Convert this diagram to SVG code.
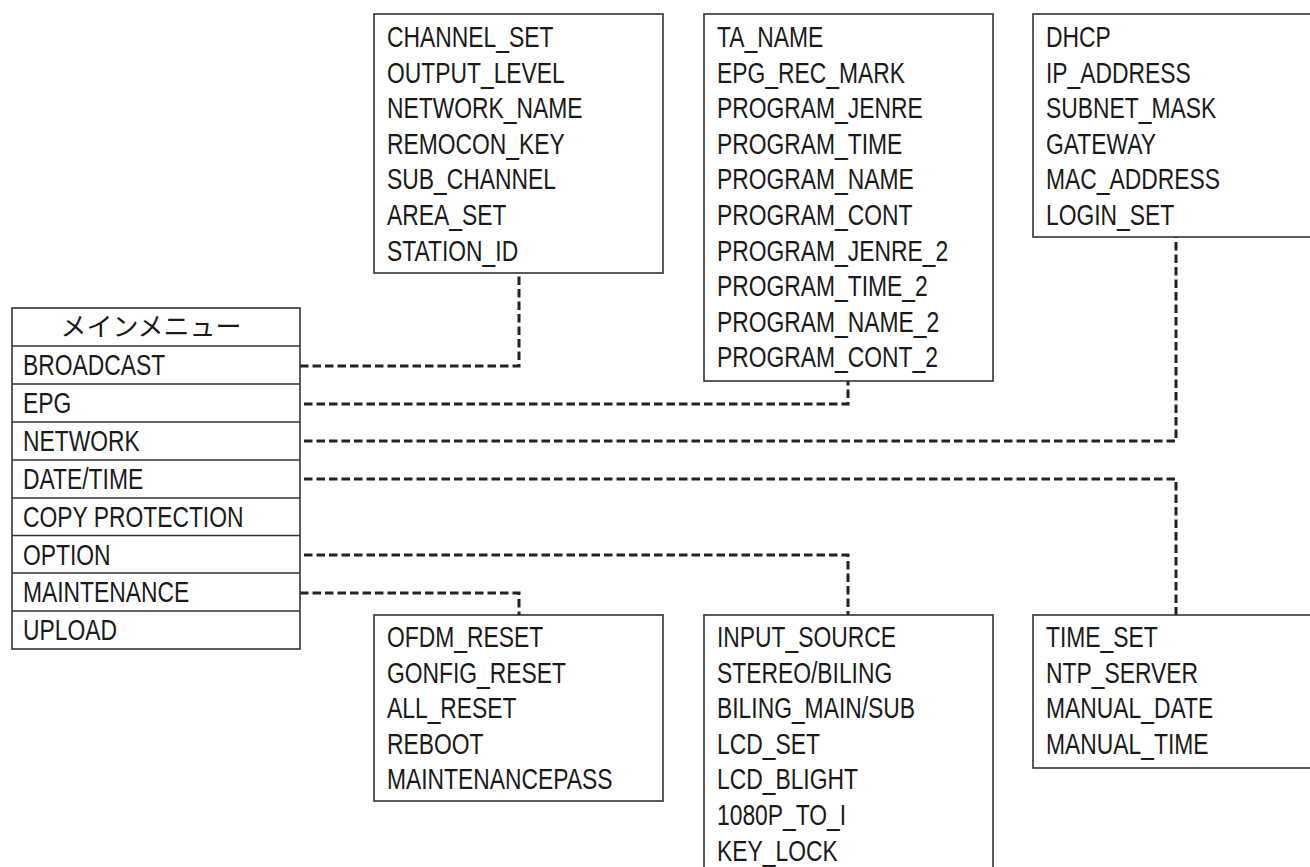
<svg xmlns="http://www.w3.org/2000/svg" width="1310" height="867" viewBox="0 0 1310 867">
<style>
.box{fill:#fff;stroke:#333;stroke-width:1.6}
.sep{stroke:#333;stroke-width:1.6}
.t{font-family:"Liberation Sans",Arial,sans-serif;font-size:29.5px;fill:#1a1a1a}
.jp{font-family:"Noto Sans CJK JP","Noto Sans",sans-serif;font-size:26px;fill:#1a1a1a}
.conn{fill:none;stroke:#222;stroke-width:3;stroke-dasharray:8.5 4}
</style>
<rect width="1310" height="867" fill="#fff"/>
<g id="connectors">
<path class="conn" d="M300,366 H519 V273"/>
<path class="conn" d="M304,404 H848 V381"/>
<path class="conn" d="M304,441 H1176 V237"/>
<path class="conn" d="M304,479 H1176 V615"/>
<path class="conn" d="M304,555 H848 V615"/>
<path class="conn" d="M300,593 H519 V615"/>
</g>
<g id="main-menu">
<rect class="box" x="12" y="308" width="288" height="341"/>
<line class="sep" x1="12" y1="346" x2="300" y2="346"/>
<line class="sep" x1="12" y1="384" x2="300" y2="384"/>
<line class="sep" x1="12" y1="422" x2="300" y2="422"/>
<line class="sep" x1="12" y1="460" x2="300" y2="460"/>
<line class="sep" x1="12" y1="498" x2="300" y2="498"/>
<line class="sep" x1="12" y1="535.5" x2="300" y2="535.5"/>
<line class="sep" x1="12" y1="573" x2="300" y2="573"/>
<line class="sep" x1="12" y1="611" x2="300" y2="611"/>
<text class="jp" x="151" y="336" text-anchor="middle">メインメニュー</text>
<text class="t" transform="translate(23,375) scale(.775,1)">BROADCAST</text>
<text class="t" transform="translate(23,413) scale(.775,1)">EPG</text>
<text class="t" transform="translate(23,451) scale(.775,1)">NETWORK</text>
<text class="t" transform="translate(23,489) scale(.775,1)">DATE/TIME</text>
<text class="t" transform="translate(23,527) scale(.775,1)">COPY PROTECTION</text>
<text class="t" transform="translate(23,564.5) scale(.775,1)">OPTION</text>
<text class="t" transform="translate(23,602) scale(.775,1)">MAINTENANCE</text>
<text class="t" transform="translate(23,640) scale(.775,1)">UPLOAD</text>
</g>
<g id="broadcast-box">
<rect class="box" x="374" y="14" width="289" height="259"/>
<text class="t" transform="translate(387,47) scale(.775,1)">CHANNEL_SET</text>
<text class="t" transform="translate(387,82.6) scale(.775,1)">OUTPUT_LEVEL</text>
<text class="t" transform="translate(387,118.2) scale(.775,1)">NETWORK_NAME</text>
<text class="t" transform="translate(387,153.8) scale(.775,1)">REMOCON_KEY</text>
<text class="t" transform="translate(387,189.4) scale(.775,1)">SUB_CHANNEL</text>
<text class="t" transform="translate(387,225) scale(.775,1)">AREA_SET</text>
<text class="t" transform="translate(387,260.6) scale(.775,1)">STATION_ID</text>
</g>
<g id="epg-box">
<rect class="box" x="704" y="14" width="289" height="367"/>
<text class="t" transform="translate(717,47) scale(.775,1)">TA_NAME</text>
<text class="t" transform="translate(717,82.6) scale(.775,1)">EPG_REC_MARK</text>
<text class="t" transform="translate(717,118.2) scale(.775,1)">PROGRAM_JENRE</text>
<text class="t" transform="translate(717,153.8) scale(.775,1)">PROGRAM_TIME</text>
<text class="t" transform="translate(717,189.4) scale(.775,1)">PROGRAM_NAME</text>
<text class="t" transform="translate(717,225) scale(.775,1)">PROGRAM_CONT</text>
<text class="t" transform="translate(717,260.6) scale(.775,1)">PROGRAM_JENRE_2</text>
<text class="t" transform="translate(717,296.2) scale(.775,1)">PROGRAM_TIME_2</text>
<text class="t" transform="translate(717,331.8) scale(.775,1)">PROGRAM_NAME_2</text>
<text class="t" transform="translate(717,367.4) scale(.775,1)">PROGRAM_CONT_2</text>
</g>
<g id="network-box">
<rect class="box" x="1033" y="14" width="289" height="223"/>
<text class="t" transform="translate(1046,47) scale(.775,1)">DHCP</text>
<text class="t" transform="translate(1046,82.6) scale(.775,1)">IP_ADDRESS</text>
<text class="t" transform="translate(1046,118.2) scale(.775,1)">SUBNET_MASK</text>
<text class="t" transform="translate(1046,153.8) scale(.775,1)">GATEWAY</text>
<text class="t" transform="translate(1046,189.4) scale(.775,1)">MAC_ADDRESS</text>
<text class="t" transform="translate(1046,225) scale(.775,1)">LOGIN_SET</text>
</g>
<g id="maintenance-box">
<rect class="box" x="374" y="615" width="289" height="186"/>
<text class="t" transform="translate(387,647) scale(.775,1)">OFDM_RESET</text>
<text class="t" transform="translate(387,682.6) scale(.775,1)">GONFIG_RESET</text>
<text class="t" transform="translate(387,718.2) scale(.775,1)">ALL_RESET</text>
<text class="t" transform="translate(387,753.8) scale(.775,1)">REBOOT</text>
<text class="t" transform="translate(387,789.4) scale(.775,1)">MAINTENANCEPASS</text>
</g>
<g id="option-box">
<rect class="box" x="704" y="615" width="289" height="270"/>
<text class="t" transform="translate(717,647) scale(.775,1)">INPUT_SOURCE</text>
<text class="t" transform="translate(717,682.6) scale(.775,1)">STEREO/BILING</text>
<text class="t" transform="translate(717,718.2) scale(.775,1)">BILING_MAIN/SUB</text>
<text class="t" transform="translate(717,753.8) scale(.775,1)">LCD_SET</text>
<text class="t" transform="translate(717,789.4) scale(.775,1)">LCD_BLIGHT</text>
<text class="t" transform="translate(717,825) scale(.775,1)">1080P_TO_I</text>
<text class="t" transform="translate(717,860.6) scale(.775,1)">KEY_LOCK</text>
</g>
<g id="datetime-box">
<rect class="box" x="1033" y="615" width="289" height="153"/>
<text class="t" transform="translate(1046,647) scale(.775,1)">TIME_SET</text>
<text class="t" transform="translate(1046,682.6) scale(.775,1)">NTP_SERVER</text>
<text class="t" transform="translate(1046,718.2) scale(.775,1)">MANUAL_DATE</text>
<text class="t" transform="translate(1046,753.8) scale(.775,1)">MANUAL_TIME</text>
</g>
</svg>
